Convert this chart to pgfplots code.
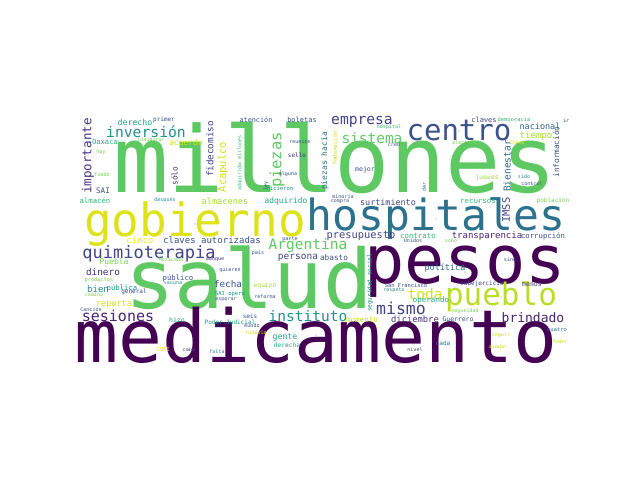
\documentclass[border=0pt]{standalone}
\usepackage{pgfplots}
\pgfplotsset{compat=1.18}
\usepackage{fontspec}
\newfontfamily\wcf{DejaVu Sans Mono}
\definecolor{vA}{HTML}{440154}
\definecolor{vB}{HTML}{482475}
\definecolor{vC}{HTML}{46337E}
\definecolor{vD}{HTML}{414487}
\definecolor{vE}{HTML}{3B528B}
\definecolor{vF}{HTML}{31688E}
\definecolor{vG}{HTML}{2A788E}
\definecolor{vH}{HTML}{21918C}
\definecolor{vI}{HTML}{22A884}
\definecolor{vJ}{HTML}{35B779}
\definecolor{vK}{HTML}{5EC962}
\definecolor{vL}{HTML}{7AD151}
\definecolor{vM}{HTML}{A5DB36}
\definecolor{vN}{HTML}{D2E21B}
\definecolor{vO}{HTML}{FDE725}
\definecolor{vGob}{HTML}{DDE318}
\definecolor{vPue}{HTML}{BADE28}
\definecolor{vHos}{HTML}{2C728E}
% word: x, y (pixels from top-left), font size (px), rotation, colour, text
\newcommand\W[6]{\addplot[only marks, mark=*, mark size=0.01pt,
  mark options={draw=none,fill=none},
  nodes near coords={#6},
  every node near coord/.append style={anchor=center, inner sep=0pt, outer sep=0pt,
    rotate=#4, text=#5, font=\wcf\fontsize{#3bp}{#3bp}\selectfont}]
  coordinates {(#1,#2)};}
\begin{document}
\begin{tikzpicture}
\fill[white] (0,0) rectangle (640bp,480bp);
\begin{axis}[
  at={(0,0)}, anchor=south west,
  width=640bp, height=480bp, scale only axis,
  xmin=0, xmax=640, ymin=0, ymax=480, y dir=reverse,
  hide axis, clip=false,
]
\W{335}{157.5}{92}{0}{vK}{millones}
\W{249}{278}{82}{0}{vK}{salud}
\W{316}{335}{73}{0}{vA}{medicamento}
\W{465}{272}{67}{0}{vA}{pesos}
\W{195}{224}{46}{0}{vGob}{gobierno}
\W{436}{219}{43}{0}{vHos}{hospitales}
\W{459}{131}{29}{0}{vE}{centro}
\W{501}{297}{31}{0}{vPue}{pueblo}
\W{149}{254}{17}{0}{vD}{quimioterapia}
\W{401}{308}{16.5}{0}{vD}{mismo}
\W{118}{316}{15}{0}{vB}{sesiones}
\W{146}{132}{14.7}{0}{vH}{inversión}
\W{308}{246}{14.5}{0}{vK}{Argentina}
\W{308}{316}{14.5}{0}{vH}{instituto}
\W{362}{122}{14.6}{0}{vD}{empresa}
\W{372}{138}{14.4}{0}{vK}{sistema}
\W{277}{160}{15.4}{90}{vK}{piezas}
\W{425}{294}{14.5}{0}{vN}{toda}
\W{533}{318}{13}{0}{vB}{brindado}
\W{88}{156}{12.5}{90}{vC}{importante}
\W{223}{167}{10.5}{90}{vN}{Acapulco}
\W{361}{236}{10.4}{0}{vD}{presupuesto}
\W{507}{166}{9.5}{90}{vF}{Bienestar}
\W{506}{210}{10.4}{90}{vD}{IMSS}
\W{298}{258}{9.5}{0}{vD}{persona}
\W{103}{272}{9.4}{0}{vC}{dinero}
\W{210}{149}{9.3}{90}{vD}{fidecomiso}
\W{228}{284}{9.3}{0}{vE}{fecha}
\W{98}{289}{9.1}{0}{vH}{bien}
\W{536}{136}{9.1}{0}{vM}{tiempo}
\W{487}{236}{9}{0}{vB}{transparencia}
\W{212}{240}{9}{0}{vE}{claves autorizadas}
\W{140}{240}{9}{0}{vO}{cinco}
\W{415}{319}{8.8}{0}{vC}{diciembre}
\W{225}{201}{8.6}{0}{vM}{almacenes}
\W{540}{126}{8.5}{0}{vF}{nacional}
\W{445}{268}{8.5}{0}{vF}{política}
\W{114}{304}{8.5}{0}{vN}{reporta}
\W{388}{202}{8.4}{0}{vD}{surtimiento}
\W{135}{122}{8.3}{0}{vI}{derecho}
\W{325}{161}{8}{90}{vG}{piezas hacia}
\W{186}{143}{8}{0}{vN}{acuerdo}
\W{286}{201}{7.9}{0}{vI}{adquirido}
\W{114}{261}{8}{0}{vL}{Puebla}
\W{174.5}{176}{7.8}{90}{vC}{sólo}
\W{431}{300}{7.5}{0}{vI}{operando}
\W{334}{258}{7.7}{0}{vE}{abasto}
\W{362}{320}{7.6}{0}{vN}{momento}
\W{103}{191}{7.6}{0}{vE}{SAI}
\W{478}{201}{7.4}{0}{vJ}{recursos}
\W{418}{236}{7.4}{0}{vJ}{contrato}
\W{556}{152}{7.7}{90}{vE}{información}
\W{95}{201}{7.3}{0}{vJ}{almacén}
\W{178}{278}{7.3}{0}{vE}{público}
\W{122}{288}{7.3}{0}{vH}{pública}
\W{543}{236}{7.3}{0}{vE}{corrupción}
\W{105}{142}{7.1}{0}{vI}{Oaxaca}
\W{285}{337}{8.2}{0}{vI}{gente}
\W{287}{345}{6.2}{0}{vI}{derecha}
\W{302}{120}{7}{0}{vE}{boletas}
\W{256}{120}{6.8}{0}{vE}{atención}
\W{265}{286}{6.3}{0}{vM}{equipo}
\W{177}{320}{6.5}{0}{vI}{hizo}
\W{532}{285}{6.5}{0}{vC}{menos}
\W{458}{319}{6.4}{0}{vE}{Guerrero}
\W{484}{119.5}{7}{0}{vD}{claves}
\W{365}{170}{6.5}{0}{vE}{mejor}
\W{487}{178}{6.5}{0}{vM}{jueves}
\W{134}{292}{6}{0}{vE}{general}
\W{164}{120}{6}{0}{vE}{primer}
\W{297}{155}{6}{0}{vC}{sello}
\W{250}{316}{6}{0}{vE}{seis}
\W{443}{343}{6}{0}{vG}{cada}
\W{230}{322}{6}{0}{vH}{Poder Judicial}
\W{482}{284}{6}{0}{vD}{subejercicio}
\W{370}{283}{6}{90}{vH}{seguridad social}
\W{553}{201}{6}{0}{vL}{población}
\W{230}{294}{5.5}{0}{vH}{SAI opera}
\W{280}{188}{5.5}{0}{vH}{hicieron}
\W{406}{285}{5.4}{0}{vE}{San Francisco}
\W{99}{280}{5.3}{0}{vL}{productos}
\W{102}{175}{5.2}{0}{vL}{fondo}
\W{514}{119.5}{5.4}{0}{vJ}{democracia}
\W{240}{163}{5}{90}{vJ}{adquirido millones}
\W{335}{148}{5.6}{90}{vN}{Federación}
\W{340}{202}{5}{0}{vE}{compra}
\W{343}{197}{5}{0}{vE}{minoría}
\W{532}{184}{5}{0}{vE}{control}
\W{557}{330}{5.5}{0}{vG}{cuatro}
\W{389}{127}{5}{0}{vJ}{hospital}
\W{151}{140}{5}{0}{vL}{inaugurar}
\W{165}{200}{5}{0}{vH}{después}
\W{230}{270}{5}{0}{vE}{quieren}
\W{226}{300}{5}{0}{vE}{esperar}
\W{265}{297}{5}{0}{vE}{reforma}
\W{94}{295}{5}{0}{vL}{camino}
\W{91}{310}{5}{0}{vE}{Canción}
\W{173}{283}{5}{0}{vH}{vacuna}
\W{171}{260}{5}{0}{vL}{Mexicana}
\W{215}{260}{5}{0}{vC}{aunque}
\W{466}{143}{5}{0}{vL}{electoral}
\W{517}{143}{5}{0}{vN}{China}
\W{524}{177}{5}{0}{vH}{sido}
\W{300}{142}{5}{0}{vE}{reunión}
\W{288}{174}{5}{0}{vE}{alguna}
\W{394}{145}{5}{0}{vE}{creo}
\W{266}{186}{5}{90}{vE}{ley}
\W{424}{187}{5}{90}{vG}{dar}
\W{101}{152}{5}{0}{vL}{hoy}
\W{290}{239}{5}{0}{vE}{parte}
\W{258}{253}{5}{0}{vE}{país}
\W{252}{326}{5}{0}{vE}{mundo}
\W{256}{333}{5}{0}{vN}{todavía}
\W{163}{349}{5.5}{0}{vO}{INAI}
\W{189}{350}{5}{0}{vE}{cabo}
\W{217}{352}{5}{0}{vH}{falta}
\W{415}{350}{5}{0}{vE}{nivel}
\W{501}{335}{5}{0}{vN}{seguir}
\W{498}{347}{5}{0}{vN}{ayudar}
\W{560}{342}{5}{0}{vN}{Poder}
\W{413}{241}{5}{0}{vE}{Unidos}
\W{451}{241}{5}{0}{vL}{ocho}
\W{510}{260}{5}{0}{vE}{sino}
\W{394}{290}{5}{0}{vH}{respeto}
\W{465}{311}{5}{0}{vL}{seguridad}
\W{566}{121}{5}{0}{vE}{ir}
\end{axis}
\pgfresetboundingbox
\path (0,0) rectangle (640bp,480bp);
\end{tikzpicture}
\end{document}
